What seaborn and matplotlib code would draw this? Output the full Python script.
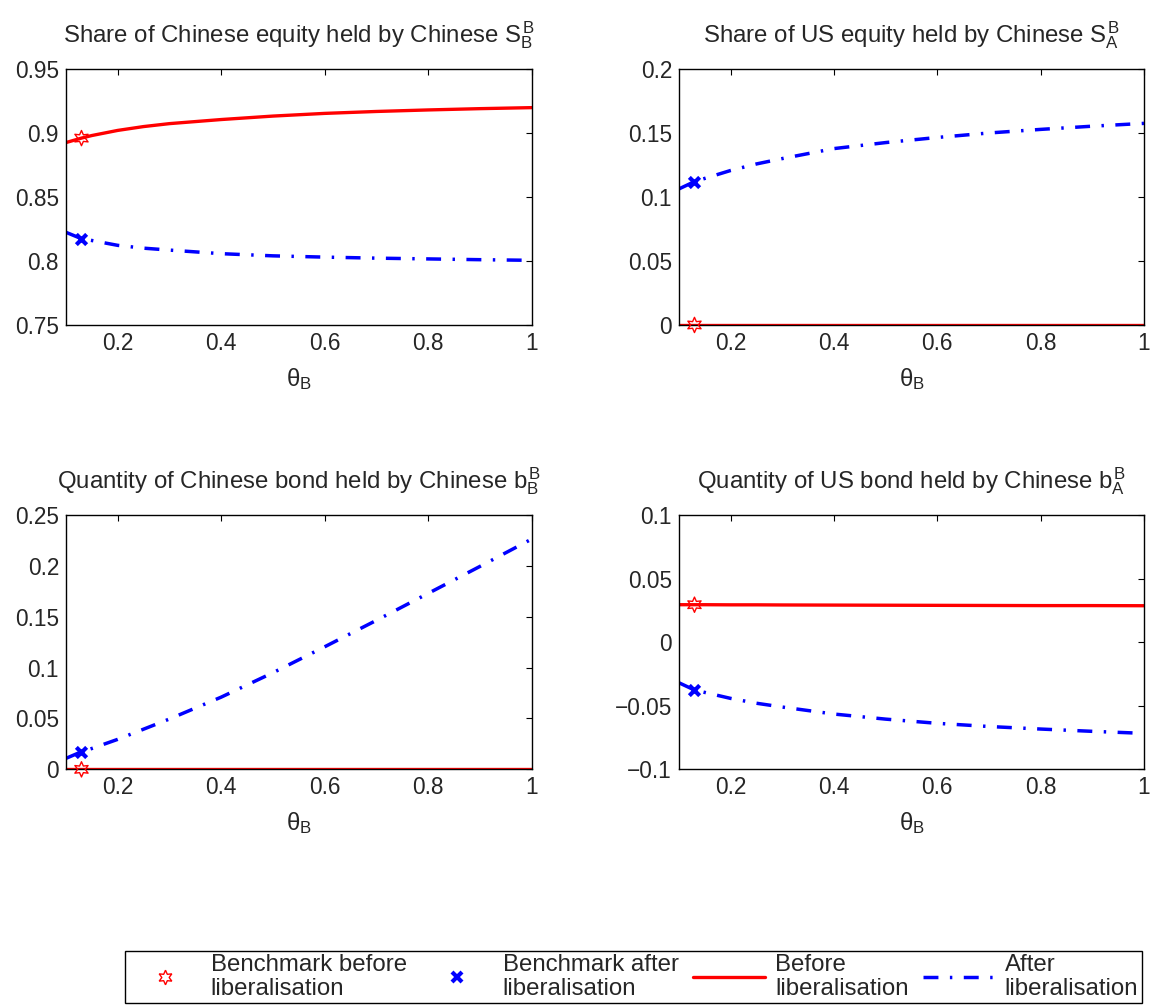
import numpy as np
import pandas as pd
import matplotlib
matplotlib.use("Agg")
import matplotlib.pyplot as plt
from matplotlib.ticker import FuncFormatter, FixedLocator
from matplotlib.lines import Line2D
import seaborn as sns

# ---------------- data ----------------
theta = [0.1, 0.13, 0.15, 0.2, 0.25, 0.3, 0.4, 0.5, 0.6, 0.7, 0.8, 0.9, 1.0]

# Share of Chinese equity held by Chinese S_B^B
sbb_before = [0.8925, 0.8960, 0.8980, 0.9020, 0.9050, 0.9073, 0.9105, 0.9132, 0.9153, 0.9168, 0.9180, 0.9190, 0.9198]
sbb_after = [0.8224, 0.8174, 0.8160, 0.8122, 0.8100, 0.8085, 0.8057, 0.8040, 0.8030, 0.8022, 0.8016, 0.8010, 0.8005]

# Share of US equity held by Chinese S_A^B
sab_before = [0.0] * 13
sab_after = [0.1063, 0.1120, 0.1145, 0.1207, 0.1258, 0.1300, 0.1378, 0.1425, 0.1465, 0.1500, 0.1528, 0.1553, 0.1575]

# Quantity of Chinese bond held by Chinese b_B^B
bbb_before = [0.0] * 13
bbb_after = [0.0108, 0.0173, 0.0205, 0.0295, 0.0395, 0.0495, 0.0710, 0.0950, 0.1205, 0.1465, 0.1730, 0.1995, 0.2264]

# Quantity of US bond held by Chinese b_A^B
bab_before = [0.0295, 0.0295, 0.0295, 0.0294, 0.0294, 0.0293, 0.0292, 0.0291, 0.0290, 0.0289, 0.0288, 0.0288, 0.0287]
bab_after = [-0.0319, -0.0376, -0.0395, -0.0442, -0.0480, -0.0510, -0.0565, -0.0605, -0.0638, -0.0663, -0.0683, -0.0701, -0.0717]

# benchmark points
bench_theta = 0.13
bench_before = [0.896, 0.0, 0.0, 0.0295]
bench_after = [0.8174, 0.112, 0.0173, -0.0376]

titles = [
    r"Share of Chinese equity held by Chinese $S^{B}_{B}$",
    r"Share of US equity held by Chinese $S^{B}_{A}$",
    r"Quantity of Chinese bond held by Chinese $b^{B}_{B}$",
    r"Quantity of US bond held by Chinese $b^{B}_{A}$",
]
yticks_list = [
    [0.75, 0.8, 0.85, 0.9, 0.95],
    [0, 0.05, 0.1, 0.15, 0.2],
    [0, 0.05, 0.1, 0.15, 0.2, 0.25],
    [-0.1, -0.05, 0, 0.05, 0.1],
]
xticks = [0.2, 0.4, 0.6, 0.8, 1.0]
legend_labels = ["Benchmark before\nliberalisation", "Benchmark after\nliberalisation",
                 "Before\nliberalisation", "After\nliberalisation"]

before_series = [sbb_before, sab_before, bbb_before, bab_before]
after_series = [sbb_after, sab_after, bbb_after, bab_after]

# ---------------- style ----------------
sns.set_style("white")
plt.rcParams["font.family"] = ["Liberation Sans", "DejaVu Sans"]
plt.rcParams["mathtext.fontset"] = "custom"
plt.rcParams["mathtext.rm"] = "Liberation Sans"
plt.rcParams["mathtext.it"] = "Liberation Sans"
plt.rcParams["mathtext.bf"] = "Liberation Sans:bold"
plt.rcParams["axes.unicode_minus"] = True

FS_TICK = 16.3
FS_TEXT = 17.3
RED = "#ff0000"
BLUE = "#0000ff"
DASHDOT = (0, (4.3, 3.3, 0.7, 3.3))
STAR = (6, 1, 0)

fig = plt.figure(figsize=(11.51, 10.07), dpi=100)
positions = [
    [0.0573, 0.6773, 0.4046, 0.2542],
    [0.5899, 0.6773, 0.4040, 0.2542],
    [0.0573, 0.2360, 0.4046, 0.2525],
    [0.5899, 0.2360, 0.4040, 0.2525],
]


def fmt(v, pos):
    s = "{:g}".format(round(v, 6))
    if s == "-0":
        s = "0"
    return s.replace("-", "\u2212")


for i in range(4):
    ax = fig.add_axes(positions[i])
    df = pd.DataFrame({"theta": theta, "before": before_series[i], "after": after_series[i]})
    sns.lineplot(data=df, x="theta", y="after", ax=ax, color=BLUE, lw=2.5,
                 linestyle=DASHDOT, estimator=None, sort=False)
    sns.lineplot(data=df, x="theta", y="before", ax=ax, color=RED, lw=2.4,
                 estimator=None, sort=False)
    sns.scatterplot(x=[bench_theta], y=[bench_before[i]], ax=ax, marker=STAR, s=120,
                    facecolors="none", edgecolors=RED, linewidths=1.0, zorder=5, clip_on=False)
    sns.scatterplot(x=[bench_theta], y=[bench_after[i]], ax=ax, marker="x", s=55,
                    color=BLUE, linewidths=3, zorder=5, clip_on=False)
    yt = yticks_list[i]
    ax.set_xlim(0.1, 1.0)
    ax.set_ylim(yt[0], yt[-1])
    ax.xaxis.set_major_locator(FixedLocator(xticks))
    ax.yaxis.set_major_locator(FixedLocator(yt))
    ax.xaxis.set_major_formatter(FuncFormatter(fmt))
    ax.yaxis.set_major_formatter(FuncFormatter(fmt))
    ax.tick_params(direction="in", top=True, right=True, length=4, width=0.8,
                   labelsize=FS_TICK, pad=5, color="black")
    for sp in ax.spines.values():
        sp.set_visible(True)
        sp.set_color("black")
        sp.set_linewidth(1.0)
    ax.set_xlabel(r"$\theta_{B}$", fontsize=FS_TEXT, labelpad=8)
    ax.set_ylabel("")
    ax.set_title(titles[i], fontsize=FS_TEXT, pad=19)

handles = [
    Line2D([], [], linestyle="none", marker=STAR, markersize=10.5, markerfacecolor="none",
           markeredgecolor=RED, markeredgewidth=1.0),
    Line2D([], [], linestyle="none", marker="x", markersize=7, color=BLUE, markeredgewidth=3),
    Line2D([], [], color=RED, lw=2.4),
    Line2D([], [], color=BLUE, lw=2.5, linestyle=DASHDOT),
]
leg = fig.legend(handles, legend_labels, loc="center", bbox_to_anchor=(0.5504, 0.0298),
                 ncol=4, fontsize=FS_TEXT, frameon=True, fancybox=False, shadow=False,
                 handlelength=3.0, handletextpad=0.4, columnspacing=0.6, borderpad=0.15,
                 borderaxespad=0.0)
leg.get_frame().set_edgecolor("black")
leg.get_frame().set_linewidth(1.0)
leg.get_frame().set_alpha(1.0)
for t in leg.get_texts():
    t.set_linespacing(1.1)

fig.savefig("out.png", dpi=100)
